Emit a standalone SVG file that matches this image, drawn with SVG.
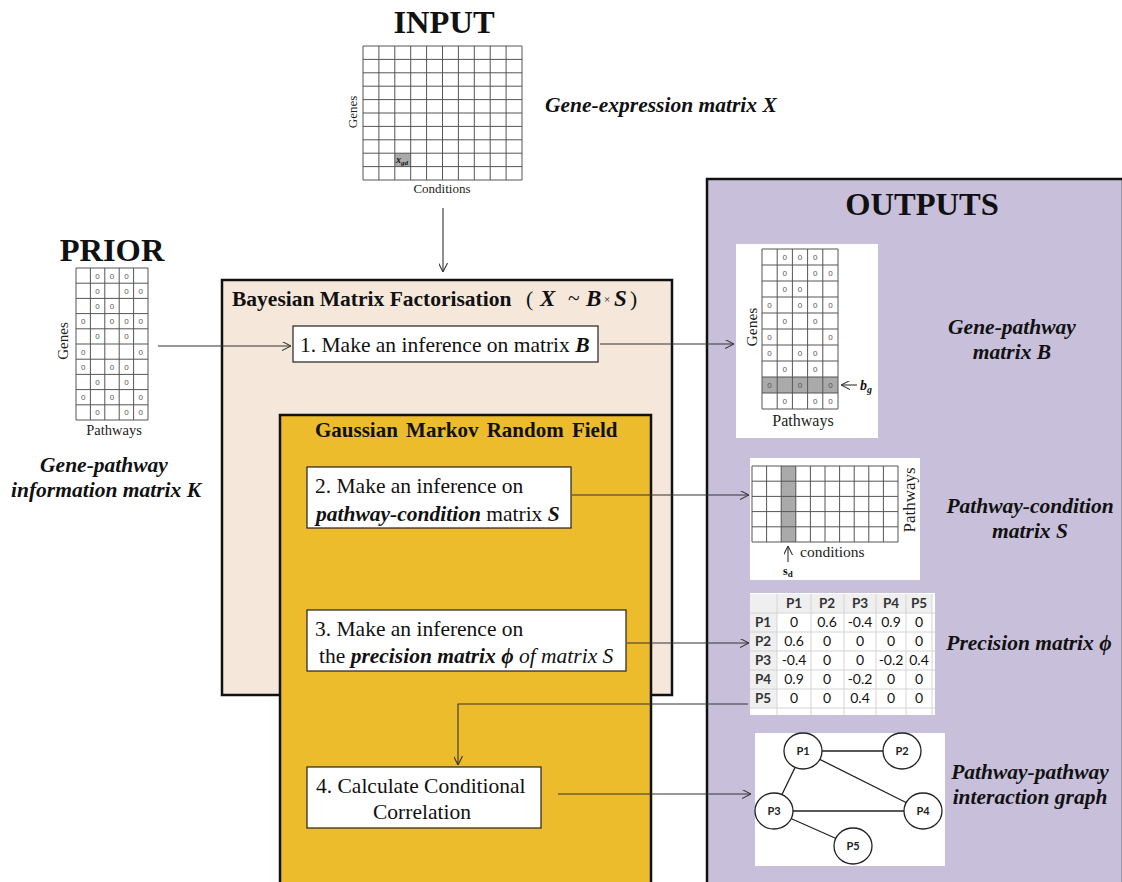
<svg xmlns="http://www.w3.org/2000/svg" width="1122" height="882" viewBox="0 0 1122 882">
<defs>
<marker id="arr" viewBox="0 0 10 10" refX="10" refY="5" markerWidth="9" markerHeight="9" markerUnits="userSpaceOnUse" orient="auto">
<path d="M0,0 L10,5 L0,10" fill="none" stroke="#333" stroke-width="1.2"/>
</marker>
<style>
.t{font-family:"Liberation Serif",serif;fill:#111}
.title{font-family:"Liberation Serif",serif;font-weight:bold;font-size:32.5px;fill:#111;text-anchor:middle}
.lbl{font-family:"Liberation Serif",serif;font-weight:bold;font-style:italic;font-size:21.5px;fill:#111;text-anchor:middle}
.step{font-family:"Liberation Serif",serif;font-size:21.5px;fill:#111}
.box{fill:#fff;stroke:#222;stroke-width:1.2}
.grid{fill:none;stroke:#555;stroke-width:1}
.z{font-family:"Liberation Sans",sans-serif;font-size:8px;fill:#555;text-anchor:middle}
.ax{font-family:"Liberation Serif",serif;fill:#222}
.conn{fill:none;stroke:#333;stroke-width:1.1}
.th{font-family:Lato,"Open Sans",sans-serif;font-weight:bold;font-size:13.5px;fill:#333;text-anchor:middle}
.td{font-family:Lato,"Open Sans",sans-serif;font-size:14px;fill:#111;text-anchor:middle}
.node{fill:#fff;stroke:#222;stroke-width:1.3}
.nl{font-family:Lato,"Open Sans",sans-serif;font-weight:bold;font-size:11px;fill:#222;text-anchor:middle}
</style>
</defs>
<rect width="1122" height="882" fill="#fff"/>

<!-- Panels -->
<g id="outputs">
<rect x="707" y="179" width="416" height="706" fill="#c8c0db" stroke="#111" stroke-width="2.5"/>
<text class="title" x="922" y="215">OUTPUTS</text>
</g>
<g id="bayesian">
<rect x="222" y="280" width="450" height="415" fill="#f5e8da" stroke="#111" stroke-width="2.5"/>
<text class="t" x="232" y="306" font-size="21.5" font-weight="bold">Bayesian Matrix Factorisation</text>
<text class="t" x="526" y="306" font-size="21.5">(</text>
<text class="t" x="540" y="306" font-size="23" font-weight="bold" font-style="italic">X</text>
<text class="t" x="568" y="305" font-size="21.5">~</text>
<text class="t" x="586" y="306" font-size="23" font-weight="bold" font-style="italic">B</text>
<text class="t" x="604" y="303" font-size="11">×</text>
<text class="t" x="614" y="306" font-size="23" font-weight="bold" font-style="italic">S</text>
<text class="t" x="630" y="306" font-size="21.5">)</text>
</g>
<g id="gmrf">
<rect x="280" y="415" width="371" height="470" fill="#edbc2c" stroke="#111" stroke-width="2.5"/>
<text class="t" x="315" y="437" font-size="21" font-weight="bold" word-spacing="3">Gaussian Markov Random Field</text>
</g>

<!-- Input -->
<g id="input">
<text class="title" x="444" y="33">INPUT</text>
<rect x="394.8" y="153.2" width="15.9" height="13.4" fill="#aaa"/>
<path class="grid" d="M363,46V180M378.9,46V180M394.8,46V180M410.7,46V180M426.6,46V180M442.5,46V180M458.4,46V180M474.3,46V180M490.2,46V180M506.1,46V180M522,46V180M363,46H522M363,59.4H522M363,72.8H522M363,86.2H522M363,99.6H522M363,113H522M363,126.4H522M363,139.8H522M363,153.2H522M363,166.6H522M363,180H522"/>
<text class="t" x="396" y="163" font-size="10" font-weight="bold" font-style="italic">x<tspan font-size="7" dy="2">gd</tspan></text>
<text class="ax" transform="translate(357,112) rotate(-90)" text-anchor="middle" font-size="13">Genes</text>
<text class="ax" x="442" y="193" text-anchor="middle" font-size="13">Conditions</text>
<text class="lbl" x="545" y="112" style="text-anchor:start">Gene-expression matrix X</text>
</g>

<!-- Prior -->
<g id="prior">
<text class="title" x="112" y="261">PRIOR</text>
<path class="grid" d="M76,268V420M90.4,268V420M104.8,268V420M119.2,268V420M133.6,268V420M148,268V420M76,268H148M76,283.2H148M76,298.4H148M76,313.6H148M76,328.8H148M76,344H148M76,359.2H148M76,374.4H148M76,389.6H148M76,404.8H148M76,420H148"/>
<g class="zs">
<text class="z" x="97.6" y="278.6">0</text><text class="z" x="112" y="278.6">0</text><text class="z" x="126.4" y="278.6">0</text>
<text class="z" x="97.6" y="293.8">0</text><text class="z" x="126.4" y="293.8">0</text><text class="z" x="140.8" y="293.8">0</text>
<text class="z" x="97.6" y="309">0</text><text class="z" x="112" y="309">0</text>
<text class="z" x="83.2" y="324.2">0</text><text class="z" x="112" y="324.2">0</text><text class="z" x="126.4" y="324.2">0</text><text class="z" x="140.8" y="324.2">0</text>
<text class="z" x="97.6" y="339.4">0</text><text class="z" x="126.4" y="339.4">0</text>
<text class="z" x="83.2" y="354.6">0</text><text class="z" x="140.8" y="354.6">0</text>
<text class="z" x="83.2" y="369.8">0</text><text class="z" x="112" y="369.8">0</text><text class="z" x="126.4" y="369.8">0</text>
<text class="z" x="97.6" y="385">0</text><text class="z" x="126.4" y="385">0</text>
<text class="z" x="83.2" y="400.2">0</text><text class="z" x="112" y="400.2">0</text><text class="z" x="140.8" y="400.2">0</text>
<text class="z" x="97.6" y="415.4">0</text><text class="z" x="126.4" y="415.4">0</text><text class="z" x="140.8" y="415.4">0</text>
</g>
<text class="ax" transform="translate(68,341) rotate(-90)" text-anchor="middle" font-size="15">Genes</text>
<text class="ax" x="114" y="435" text-anchor="middle" font-size="14.5">Pathways</text>
<text class="lbl" x="104" y="472">Gene-pathway</text>
<text class="lbl" x="106" y="497">information matrix K</text>
</g>

<!-- Steps -->
<g id="step1">
<rect class="box" x="293" y="326" width="305" height="36"/>
<text class="step" x="300" y="352">1. Make an inference on matrix <tspan font-weight="bold" font-style="italic">B</tspan></text>
</g>
<g id="step2">
<rect class="box" x="307" y="467" width="264" height="61"/>
<text class="step" x="315" y="493">2. Make an inference on</text>
<text class="step" x="316" y="521"><tspan font-weight="bold" font-style="italic">pathway-condition</tspan> matrix <tspan font-weight="bold" font-style="italic">S</tspan></text>
</g>
<g id="step3">
<rect class="box" x="307" y="610" width="319" height="61"/>
<text class="step" x="315" y="636">3. Make an inference on</text>
<text class="step" x="319" y="663">the <tspan font-weight="bold" font-style="italic">precision matrix ϕ</tspan> <tspan font-style="italic">of matrix S</tspan></text>
</g>
<g id="step4">
<rect class="box" x="307" y="767" width="234" height="61"/>
<text class="step" x="316" y="793">4. Calculate Conditional</text>
<text class="step" x="422" y="819" text-anchor="middle">Correlation</text>
</g>

<!-- Output B -->
<g id="matrixB">
<rect x="736" y="244" width="142" height="194" fill="#fff"/>
<rect x="762" y="377" width="76" height="16" fill="#aaa"/>
<path class="grid" d="M762,249V409M777.2,249V409M792.4,249V409M807.6,249V409M822.8,249V409M838,249V409M762,249H838M762,265H838M762,281H838M762,297H838M762,313H838M762,329H838M762,345H838M762,361H838M762,377H838M762,393H838M762,409H838"/>
<text class="z" x="784.8" y="260">0</text><text class="z" x="800" y="260">0</text><text class="z" x="815.2" y="260">0</text>
<text class="z" x="784.8" y="276">0</text><text class="z" x="815.2" y="276">0</text><text class="z" x="830.4" y="276">0</text>
<text class="z" x="784.8" y="292">0</text><text class="z" x="800" y="292">0</text>
<text class="z" x="769.6" y="308">0</text><text class="z" x="800" y="308">0</text><text class="z" x="815.2" y="308">0</text><text class="z" x="830.4" y="308">0</text>
<text class="z" x="784.8" y="324">0</text><text class="z" x="815.2" y="324">0</text>
<text class="z" x="769.6" y="340">0</text><text class="z" x="830.4" y="340">0</text>
<text class="z" x="769.6" y="356">0</text><text class="z" x="800" y="356">0</text><text class="z" x="815.2" y="356">0</text>
<text class="z" x="784.8" y="372">0</text><text class="z" x="815.2" y="372">0</text>
<text class="z" x="769.6" y="388">0</text><text class="z" x="800" y="388">0</text><text class="z" x="830.4" y="388">0</text>
<text class="z" x="784.8" y="404">0</text><text class="z" x="815.2" y="404">0</text><text class="z" x="830.4" y="404">0</text>
<text class="ax" transform="translate(757,327) rotate(-90)" text-anchor="middle" font-size="15.5">Genes</text>
<text class="ax" x="803" y="426" text-anchor="middle" font-size="16">Pathways</text>
<path class="conn" d="M857,385H841" marker-end="url(#arr)"/>
<text class="t" x="860" y="390" font-size="14" font-weight="bold" font-style="italic">b<tspan font-size="10" dy="3">g</tspan></text>
<text class="lbl" x="1012" y="334">Gene-pathway</text>
<text class="lbl" x="1012" y="359">matrix B</text>
</g>

<!-- Output S -->
<g id="matrixS">
<rect x="750" y="458" width="170" height="122" fill="#fff"/>
<rect x="781.2" y="466" width="14.6" height="76" fill="#aaa"/>
<path class="grid" d="M752,466V542M766.6,466V542M781.2,466V542M795.8,466V542M810.4,466V542M825,466V542M839.6,466V542M854.2,466V542M868.8,466V542M883.4,466V542M898,466V542M752,466H898M752,481.2H898M752,496.4H898M752,511.6H898M752,526.8H898M752,542H898"/>
<text class="ax" transform="translate(915,500) rotate(-90)" text-anchor="middle" font-size="17">Pathways</text>
<path class="conn" d="M788,562V546" stroke-width="0.8" marker-end="url(#arr)"/>
<text class="ax" x="800" y="557" font-size="15.5">conditions</text>
<text class="t" x="783" y="575" font-size="12" font-weight="bold">s<tspan font-size="9" dy="2">d</tspan></text>
<text class="lbl" x="1030" y="513">Pathway-condition</text>
<text class="lbl" x="1030" y="538">matrix S</text>
</g>

<!-- Precision table -->
<g id="precision">
<rect x="750" y="593" width="185" height="122" fill="#fff"/>
<rect x="750" y="594" width="182" height="19" fill="#efefef"/>
<rect x="750" y="594" width="27" height="114" fill="#efefef"/>
<path fill="none" stroke="#d4d4d4" stroke-width="1" d="M777,594V715M811,594V715M844,594V715M876,594V715M906,594V715M932,594V715M750,613H935M750,632H935M750,651H935M750,670H935M750,689H935M750,708H935"/>
<text class="th" x="794" y="608">P1</text><text class="th" x="827" y="608">P2</text><text class="th" x="860" y="608">P3</text><text class="th" x="891" y="608">P4</text><text class="th" x="919" y="608">P5</text>
<text class="th" x="763" y="627">P1</text><text class="th" x="763" y="646">P2</text><text class="th" x="763" y="665">P3</text><text class="th" x="763" y="684">P4</text><text class="th" x="763" y="703">P5</text>
<text class="td" x="794" y="627">0</text><text class="td" x="827" y="627">0.6</text><text class="td" x="860" y="627">-0.4</text><text class="td" x="891" y="627">0.9</text><text class="td" x="919" y="627">0</text>
<text class="td" x="794" y="646">0.6</text><text class="td" x="827" y="646">0</text><text class="td" x="860" y="646">0</text><text class="td" x="891" y="646">0</text><text class="td" x="919" y="646">0</text>
<text class="td" x="794" y="665">-0.4</text><text class="td" x="827" y="665">0</text><text class="td" x="860" y="665">0</text><text class="td" x="891" y="665">-0.2</text><text class="td" x="919" y="665">0.4</text>
<text class="td" x="794" y="684">0.9</text><text class="td" x="827" y="684">0</text><text class="td" x="860" y="684">-0.2</text><text class="td" x="891" y="684">0</text><text class="td" x="919" y="684">0</text>
<text class="td" x="794" y="703">0</text><text class="td" x="827" y="703">0</text><text class="td" x="860" y="703">0.4</text><text class="td" x="891" y="703">0</text><text class="td" x="919" y="703">0</text>
<text class="lbl" x="1029" y="650">Precision matrix <tspan>ϕ</tspan></text>
</g>

<!-- Graph -->
<g id="graph">
<rect x="755" y="733" width="190" height="133" fill="#fff"/>
<path fill="none" stroke="#222" stroke-width="1.3" d="M803,751L902,751M803,751L774,811M803,751L923,811M774,811L923,811M774,811L853,846"/>
<g id="nP1"><ellipse class="node" cx="803" cy="751" rx="19" ry="18"/><text class="nl" x="803" y="755">P1</text></g>
<g id="nP2"><ellipse class="node" cx="902" cy="751" rx="19" ry="18"/><text class="nl" x="902" y="755">P2</text></g>
<g id="nP3"><ellipse class="node" cx="774" cy="811" rx="19" ry="18"/><text class="nl" x="774" y="815">P3</text></g>
<g id="nP4"><ellipse class="node" cx="923" cy="811" rx="19" ry="18"/><text class="nl" x="923" y="815">P4</text></g>
<g id="nP5"><ellipse class="node" cx="853" cy="846" rx="19" ry="18"/><text class="nl" x="853" y="850">P5</text></g>
<text class="lbl" x="1030" y="779">Pathway-pathway</text>
<text class="lbl" x="1030" y="804">interaction graph</text>
</g>

<!-- Connectors -->
<g id="connectors">
<path class="conn" d="M443,208V272" marker-end="url(#arr)"/>
<path class="conn" d="M158,346H291" marker-end="url(#arr)"/>
<path class="conn" d="M600,344H734" marker-end="url(#arr)"/>
<path class="conn" d="M572,495H749" marker-end="url(#arr)"/>
<path class="conn" d="M627,643H749" marker-end="url(#arr)"/>
<path class="conn" d="M748,704H458V765" marker-end="url(#arr)"/>
<path class="conn" d="M558,794H751" marker-end="url(#arr)"/>
</g>
</svg>
